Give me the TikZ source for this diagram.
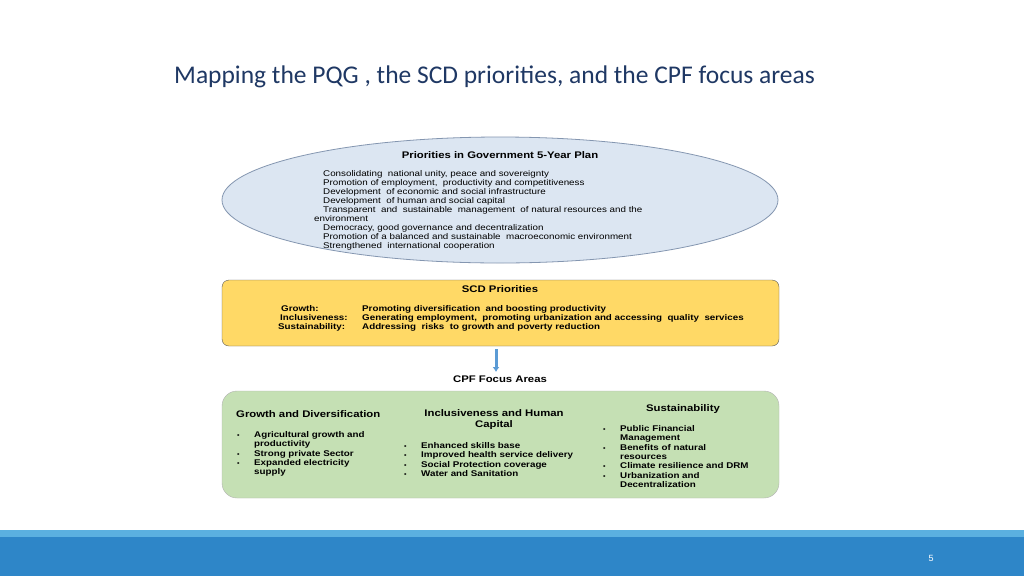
\documentclass[tikz,border=0pt]{standalone}
\usetikzlibrary{arrows.meta}
\usepackage{fontspec}
\setmainfont{Liberation Sans}
\newfontfamily\wide[FakeStretch=1.18]{Liberation Sans}
\newfontfamily\titlefont{Carlito}
\definecolor{ellfill}{HTML}{DCE6F2}
\definecolor{ellline}{HTML}{8496B0}
\definecolor{yel}{HTML}{FFD966}
\definecolor{grn}{HTML}{C5E0B4}
\definecolor{barA}{HTML}{2E86C8}
\definecolor{barB}{HTML}{5BB0E0}
\definecolor{titlec}{HTML}{1F3864}
\definecolor{arr}{HTML}{5B9BD5}
\newcommand{\bul}{\makebox[17pt][l]{\fontsize{6}{6}\selectfont\textbullet}}
\begin{document}
\begin{tikzpicture}[x=1pt,y=-1pt,
  txt/.style={inner sep=0pt,anchor=west,font=\wide\fontsize{8.3}{9}\selectfont},
  btxt/.style={inner sep=0pt,anchor=west,font=\wide\fontsize{8.3}{9.4}\selectfont\bfseries},
  hdr/.style={inner sep=0pt,font=\wide\fontsize{9.6}{11}\selectfont\bfseries}]
\useasboundingbox (0,0) rectangle (1024,576);
\fill[white] (0,0) rectangle (1024,576);
\fill[barB] (0,530) rectangle (1024,537);
\fill[barA] (0,537) rectangle (1024,576);
\node[text=white,font=\fontsize{9}{9}\selectfont] (pg) at (931,558) {5};
\node[titlec,font=\titlefont\fontsize{25.5}{28}\selectfont,anchor=west,inner sep=0pt] (title) at (174,77) {Mapping the PQG , the SCD priorities, and the CPF focus areas};
% ellipse
\draw[ellline,fill=ellfill,thick] (500,200) ellipse [x radius=278,y radius=63];
\node[hdr] (eh) at (500,155) {Priorities in Government 5-Year Plan};
\node[txt,anchor=north west,align=left] (el) at (314,170) {\hspace*{9pt}Consolidating \ national unity, peace and sovereignty\\
\hspace*{9pt}Promotion of employment, \ productivity and competitiveness\\
\hspace*{9pt}Development \ of economic and social infrastructure\\
\hspace*{9pt}Development \ of human and social capital\\
\hspace*{9pt}Transparent \ and \ sustainable \ management \ of natural resources and the\\
environment\\
\hspace*{9pt}Democracy, good governance and decentralization\\
\hspace*{9pt}Promotion of a balanced and sustainable \ macroeconomic environment\\
\hspace*{9pt}Strengthened \ international cooperation};
% SCD
\draw[gray!70!black,fill=yel,rounded corners=7pt] (222,280) rectangle (779,346);
\node[hdr] (sh) at (500,289) {SCD Priorities};
\node[btxt] (g1) at (281,309) {Growth:};
\node[btxt] (g2) at (280,318) {Inclusiveness:};
\node[btxt] (g3) at (278,327) {Sustainability:};
\node[btxt] (v1) at (362,309) {Promoting diversification \ and boosting productivity};
\node[btxt] (v2) at (362,318) {Generating employment, \ promoting urbanization and accessing \ quality \ services};
\node[btxt] (v3) at (362,327) {Addressing \ risks \ to growth and poverty reduction};
% arrow
\coordinate (a1) at (496,349);
\coordinate (a2) at (496,372);
\draw[arr,line width=3pt,-{Latex[length=5pt,width=7pt]}] (a1) -- (a2);
\node[hdr] (cpf) at (500,379) {CPF Focus Areas};
% green
\draw[gray!60,fill=grn,rounded corners=15pt] (222,391) rectangle (779,498);
\node[hdr,anchor=west] (h1) at (236,414) {Growth and Diversification};
\node[btxt,anchor=north west,align=left] (c1) at (237,431) {\bul Agricultural growth and\\
\hspace*{17pt}productivity\\
\bul Strong private Sector\\
\bul Expanded electricity\\
\hspace*{17pt}supply};
\node[hdr,align=center] (h2) at (494,420) {Inclusiveness and Human\\Capital};
\node[btxt,anchor=north west,align=left] (c2) at (404,442) {\bul Enhanced skills base\\
\bul Improved health service delivery\\
\bul Social Protection coverage\\
\bul Water and Sanitation};
\node[hdr] (h3) at (683,409) {Sustainability};
\node[btxt,anchor=north west,align=left] (c3) at (603,425) {\bul Public Financial\\
\hspace*{17pt}Management\\
\bul Benefits of natural\\
\hspace*{17pt}resources\\
\bul Climate resilience and DRM\\
\bul Urbanization and\\
\hspace*{17pt}Decentralization};
\end{tikzpicture}
\end{document}
